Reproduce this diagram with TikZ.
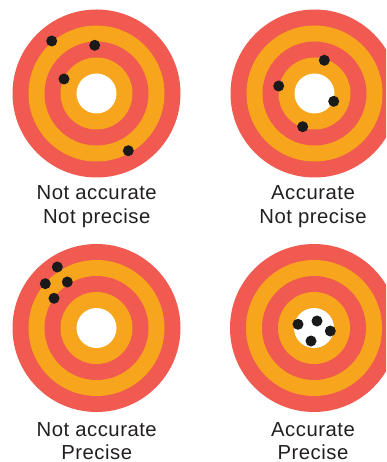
\documentclass[tikz,border=0pt]{standalone}
\usepackage{fontspec}
\setmainfont{Liberation Sans}[LetterSpace=2.5]
\definecolor{ringred}{HTML}{F05A50}
\definecolor{ringorange}{HTML}{F7A51C}
\definecolor{dotblack}{HTML}{1A1A1A}
\definecolor{textgray}{HTML}{231F20}
\begin{document}
\begin{tikzpicture}[x=1pt,y=-1pt,
  shot/.style={circle,fill=dotblack,inner sep=0pt,minimum size=11pt},
  caption/.style={font=\fontsize{20.3}{24}\selectfont,text=textgray,anchor=base,inner sep=0pt},
  target/.pic={
    \fill[ringred] (0,0) circle (84pt);
    \fill[ringorange] (0,0) circle (68pt);
    \fill[ringred] (0,0) circle (52pt);
    \fill[ringorange] (0,0) circle (36pt);
    \fill[white] (0,0) circle (20pt);
  }]
\useasboundingbox (0,0) rectangle (386,462);
\clip (0,0) rectangle (386,462);
\fill[white] (0,0) rectangle (386,462);
% targets
\pic at (96.5,93.5) {target};
\pic at (314.5,93.5) {target};
\pic at (96.5,328) {target};
\pic at (314,328) {target};
% shots: not accurate, not precise
\node[shot] (a1) at (51.7,41) {};
\node[shot] (a2) at (94.7,45.3) {};
\node[shot] (a3) at (64,79) {};
\node[shot] (a4) at (128.3,150.7) {};
% accurate, not precise
\node[shot] (b1) at (324.3,60.3) {};
\node[shot] (b2) at (278.7,86) {};
\node[shot] (b3) at (333.7,101.3) {};
\node[shot] (b4) at (302.7,126.7) {};
% not accurate, precise
\node[shot] (c1) at (57.3,267) {};
\node[shot] (c2) at (45.3,283.7) {};
\node[shot] (c3) at (67.3,282) {};
\node[shot] (c4) at (54,298.3) {};
% accurate, precise
\node[shot] (d1) at (298,324.3) {};
\node[shot] (d2) at (317,321) {};
\node[shot] (d3) at (330.3,331) {};
\node[shot] (d4) at (311,341) {};
% captions
\node[caption] (la1) at (96.7,200) {Not accurate};
\node[caption] (la2) at (96.7,223.5) {Not precise};
\node[caption] (lb1) at (313,200) {Accurate};
\node[caption] (lb2) at (313,223.5) {Not precise};
\node[caption] (lc1) at (96.7,436.7) {Not accurate};
\node[caption] (lc2) at (96.7,459) {Precise};
\node[caption] (ld1) at (313,436.7) {Accurate};
\node[caption] (ld2) at (313,459) {Precise};
\end{tikzpicture}
\end{document}
